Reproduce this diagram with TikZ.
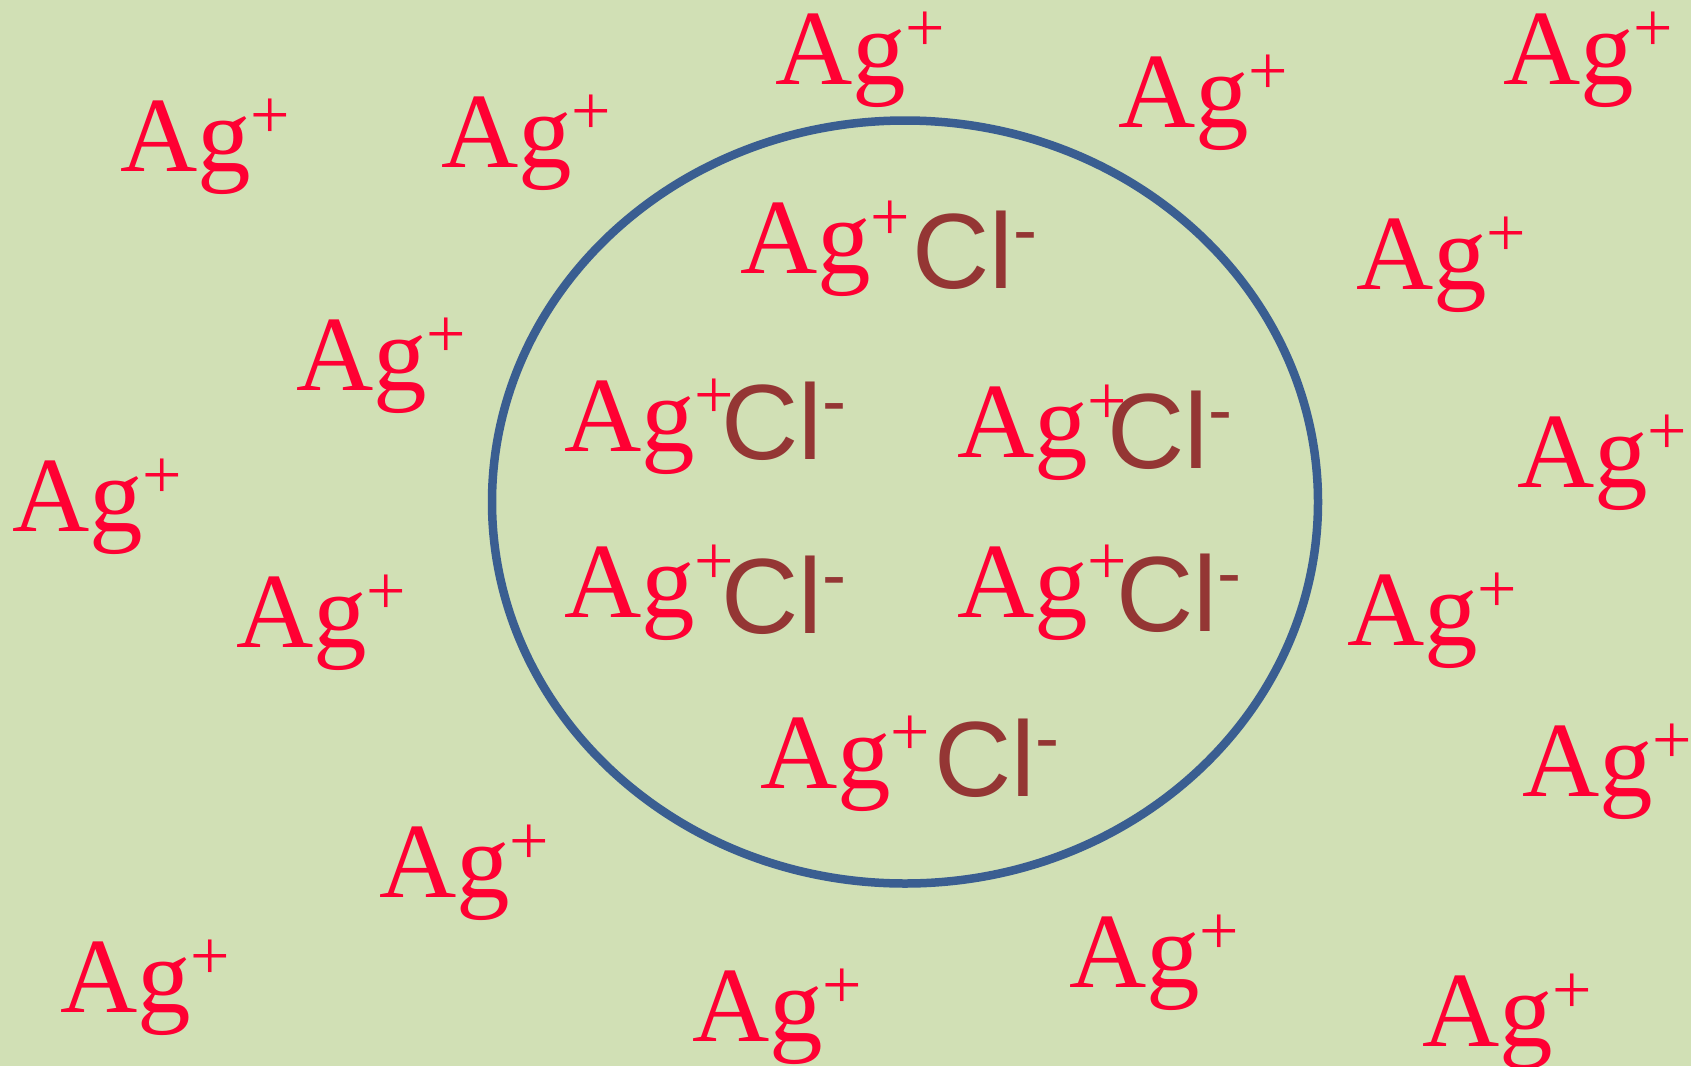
\documentclass[tikz,border=0pt]{standalone}
\usepackage{fontspec}
\setmainfont{Liberation Serif}
\newfontfamily\clfont{Liberation Sans}
\usepackage{tikz}
\usetikzlibrary{shapes.geometric}

\definecolor{bgGreen}{HTML}{D1E0B5}
\definecolor{ionRed}{HTML}{FF0033}
\definecolor{clBrown}{HTML}{943634}
\definecolor{rimBlue}{HTML}{3A5E91}

\newcommand{\agtext}{Ag\raisebox{33pt}{\fontsize{70}{70}\selectfont +}}
\newcommand{\cltext}{Cl\raisebox{34pt}{\fontsize{72}{72}\selectfont -}}

\begin{document}
\begin{tikzpicture}[
    x=1pt, y=-1pt,
    agion/.style={anchor=base west, inner sep=0pt, text=ionRed,
                  font=\fontsize{107}{110}\selectfont},
    clion/.style={anchor=base west, inner sep=0pt, text=clBrown,
                  font=\clfont\fontsize{107}{110}\selectfont},
    rim/.style={draw=rimBlue, line width=8.5pt},
]

\path[use as bounding box, fill=bgGreen] (0,0) rectangle (1691,1066);
\clip (0,0) rectangle (1691,1066);

% precipitate
\node[rim, ellipse, minimum width=826pt, minimum height=763pt, inner sep=0pt] (grain) at (905,502) {};

\node[agion] (ag-a) at (740,273) {\agtext};
\node[clion] (cl-a) at (912,288) {\cltext};
\node[agion] (ag-b) at (564,451) {\agtext};
\node[clion] (cl-b) at (721,459) {\cltext};
\node[agion] (ag-c) at (957,457) {\agtext};
\node[clion] (cl-c) at (1107,468) {\cltext};
\node[agion] (ag-d) at (564,617) {\agtext};
\node[clion] (cl-d) at (721,633) {\cltext};
\node[agion] (ag-e) at (957,617) {\agtext};
\node[clion] (cl-e) at (1116,631) {\cltext};
\node[agion] (ag-f) at (760,788) {\agtext};
\node[clion] (cl-f) at (934,796) {\cltext};

% free silver ions
\node[agion] (ag1) at (120,171) {\agtext};
\node[agion] (ag2) at (441,167) {\agtext};
\node[agion] (ag3) at (775,84) {\agtext};
\node[agion] (ag4) at (1118,127) {\agtext};
\node[agion] (ag5) at (1503,84) {\agtext};
\node[agion] (ag6) at (1356,289) {\agtext};
\node[agion] (ag7) at (296,390) {\agtext};
\node[agion] (ag8) at (12,531) {\agtext};
\node[agion] (ag9) at (1517,487) {\agtext};
\node[agion] (ag10) at (236,647) {\agtext};
\node[agion] (ag11) at (1347,645) {\agtext};
\node[agion] (ag12) at (1522,796) {\agtext};
\node[agion] (ag13) at (379,897) {\agtext};
\node[agion] (ag14) at (60,1012) {\agtext};
\node[agion] (ag15) at (692,1041) {\agtext};
\node[agion] (ag16) at (1069,987) {\agtext};
\node[agion] (ag17) at (1422,1046) {\agtext};

\end{tikzpicture}
\end{document}
